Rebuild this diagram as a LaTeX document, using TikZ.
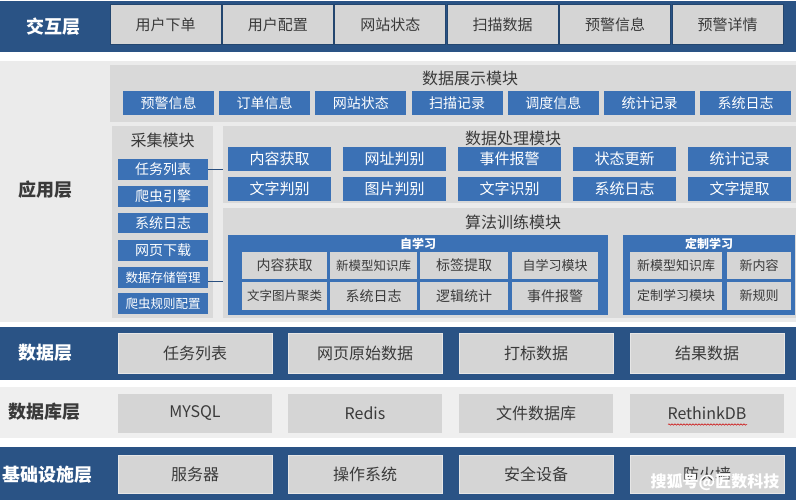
\documentclass[tikz,border=0pt]{standalone}
\usepackage{fontspec}
\setmainfont{Noto Sans CJK SC}
\usetikzlibrary{decorations.pathmorphing}
\definecolor{band}{HTML}{2A5385}
\definecolor{bandline}{HTML}{23466F}
\definecolor{bluebx}{HTML}{3B71B5}
\definecolor{graybx}{HTML}{D5D5D5}
\definecolor{modbg}{HTML}{D9D9D9}
\definecolor{appbg}{HTML}{EBEBEB}
\definecolor{dbbg}{HTML}{EFEFEF}
\definecolor{txt}{HTML}{3A3A3A}
\newcommand\rb[7]{\node[#1,minimum width={#4-#2},minimum height={#5-#3}] (#6) at (#2,#3) {#7};}
\tikzset{
  box/.style={anchor=north west, inner sep=0pt, outer sep=0pt, align=center},
  gbox/.style={box, fill=graybx, text=txt},
  bbox/.style={box, fill=bluebx, text=white},
  modbox/.style={box, fill=modbg},
  f18/.style={font=\fontsize{18pt}{18pt}\selectfont\bfseries},
  f16/.style={font=\fontsize{16pt}{16pt}\selectfont},
  f15/.style={font=\fontsize{15pt}{15pt}\selectfont},
  f14/.style={font=\fontsize{14pt}{14pt}\selectfont},
  f13/.style={font=\fontsize{13pt}{13pt}\selectfont},
  f12/.style={font=\fontsize{12.5pt}{12.5pt}\selectfont},
  lbl/.style={inner sep=0pt},
  conn/.style={draw=bluebx!70!black, line width=1pt},
}
\begin{document}
\begin{tikzpicture}[x=1pt,y=-1pt]
\useasboundingbox (0,0) rectangle (796,500);
\fill[white] (0,0) rectangle (796,500);
% ---------- interaction layer
\fill[band] (0,1) rectangle (796,52);
\node[lbl,f18,text=white] (l1) at (54,27) {交互层};
\foreach [count=\i from 0] \t in {用户下单,用户配置,网站状态,扫描数据,预警信息,预警详情}{
  \pgfmathsetmacro\xa{110+\i*112.4}
  \node[gbox,f15,draw=bandline,line width=1pt,minimum width=111,minimum height=40] (top\i) at (\xa,5) {\t};
}
% ---------- application layer
\fill[appbg] (0,61) rectangle (796,322);
\node[lbl,f18,text=txt] (l2) at (45,190) {应用层};
% display module
\rb{modbox}{110}{65}{796}{122}{disp}{}
\node[lbl,f16,text=txt] (dispt) at (470,78) {数据展示模块};
\foreach [count=\i from 0] \t in {预警信息,订单信息,网站状态,扫描记录,调度信息,统计记录,系统日志}{
  \pgfmathsetmacro\xa{123+\i*96.2}
  \node[bbox,f14,minimum width=91,minimum height=24] (disp\i) at (\xa,91) {\t};
}
% collection module
\rb{modbox}{112}{126}{213}{318}{coll}{}
\node[lbl,f16,text=txt] (collt) at (162.5,140) {采集模块};
\rb{bbox,f14}{118}{159}{208}{180}{c0}{任务列表}
\rb{bbox,f14}{118}{186}{208}{207}{c1}{爬虫引擎}
\rb{bbox,f14}{118}{213}{208}{233}{c2}{系统日志}
\rb{bbox,f14}{118}{240}{208}{261}{c3}{网页下载}
\rb{bbox,f12}{118}{267}{208}{288}{c4}{数据存储管理}
\rb{bbox,f12}{118}{293}{208}{314}{c5}{爬虫规则配置}
% processing module
\rb{modbox}{223}{126}{796}{203}{proc}{}
\node[lbl,f16,text=txt] (proct) at (513,138) {数据处理模块};
\foreach [count=\i from 0] \t in {内容获取,网址判别,事件报警,状态更新,统计记录}{
  \pgfmathsetmacro\xa{228+\i*115}
  \node[bbox,f15,minimum width=103,minimum height=24] (pa\i) at (\xa,147) {\t};
}
\foreach [count=\i from 0] \t in {文字判别,图片判别,文字识别,系统日志,文字提取}{
  \pgfmathsetmacro\xa{228+\i*115}
  \node[bbox,f15,minimum width=103,minimum height=24] (pb\i) at (\xa,177) {\t};
}
% algorithm module
\rb{modbox}{223}{208}{796}{318}{algo}{}
\node[lbl,f16,text=txt] (algot) at (513,222) {算法训练模块};
\rb{bbox}{228}{235}{608}{315}{self}{}
\node[lbl,font=\fontsize{12pt}{12pt}\selectfont\bfseries,text=white] (selft) at (418,243.5) {自学习};
\rb{gbox,f14}{242}{252}{327}{279}{s0}{内容获取}
\rb{gbox,f12}{330}{252}{417}{279}{s1}{新模型知识库}
\rb{gbox,f14}{420}{252}{508}{279}{s2}{标签提取}
\rb{gbox,f13}{512}{252}{598}{279}{s3}{自学习模块}
\rb{gbox,f12}{242}{282}{327}{310}{s4}{文字图片聚类}
\rb{gbox,f14}{330}{282}{417}{310}{s5}{系统日志}
\rb{gbox,f14}{420}{282}{508}{310}{s6}{逻辑统计}
\rb{gbox,f14}{512}{282}{598}{310}{s7}{事件报警}
\rb{bbox}{623}{235}{795}{315}{cust}{}
\node[lbl,font=\fontsize{12pt}{12pt}\selectfont\bfseries,text=white] (custt) at (709,243.5) {定制学习};
\rb{gbox,f13}{630}{252}{722}{279}{u0}{新模型知识库}
\rb{gbox,f13}{727}{252}{791}{279}{u1}{新内容}
\rb{gbox,f13}{630}{282}{722}{310}{u2}{定制学习模块}
\rb{gbox,f13}{727}{282}{791}{310}{u3}{新规则}
% connectors
\draw[conn] (c0.east) -- (c0.east -| proc.west);
\draw[conn] ([yshift=-4pt]c4.east) -- ([yshift=-4pt]c4.east -| algo.west);
% ---------- data layer
\fill[band] (0,327) rectangle (796,380);
\node[lbl,f18,text=white] (l3) at (45,353) {数据层};
\foreach [count=\i from 0] \t/\xa in {任务列表/118,网页原始数据/288,打标数据/459,结果数据/630}{
  \node[gbox,f16,draw=graybx!60!white,line width=0.6pt,minimum width=154,minimum height=40] (d\i) at (\xa,333) {\t};
}
% ---------- database layer
\fill[dbbg] (0,387) rectangle (796,438);
\node[lbl,f18,text=txt] (l4) at (45,412) {数据库层};
\foreach [count=\i from 0] \t/\xa in {MYSQL/118,Redis/288,文件数据库/459,RethinkDB/630}{
  \node[gbox,f16,minimum width=154,minimum height=39] (db\i) at (\xa,394) {\t};
}
\coordinate (sq1) at (668,424.5);
\coordinate (sq2) at (747,424.5);
\draw[red!80!black,line width=0.5pt,decorate,decoration={snake,amplitude=0.7pt,segment length=3pt}] (sq1) -- (sq2);
% ---------- infrastructure layer
\fill[band] (0,447) rectangle (796,500);
\node[lbl,f18,text=white] (l5) at (47,475) {基础设施层};
\foreach [count=\i from 0] \t/\xa in {服务器/118,操作系统/288,安全设备/459,防火墙/630}{
  \node[gbox,f16,draw=graybx!60!white,line width=0.6pt,minimum width=154,minimum height=38] (inf\i) at (\xa,455) {\t};
}
% watermark
\node[lbl,font=\fontsize{16pt}{16pt}\selectfont\bfseries,text=white] (wm) at (715,482) {搜狐号@匠数科技};
\end{tikzpicture}
\end{document}
